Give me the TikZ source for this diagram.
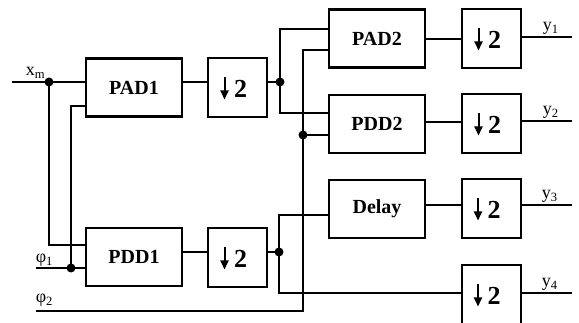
\documentclass[tikz,border=0pt]{standalone}
\usepackage{fontspec}
\setmainfont{Liberation Serif}
\usepackage{tikz}
\usetikzlibrary{calc,arrows.meta}

\tikzset{
  blk/.style={draw, line width=2.6pt, minimum width=96, minimum height=58, inner sep=0pt, font=\fontsize{20}{20}\selectfont\bfseries},
  dsbox/.style={draw, line width=2pt, minimum width=59, minimum height=59, inner sep=0pt,
    text depth=0pt, font=\fontsize{26}{26}\selectfont\bfseries,
    path picture={\draw[line width=2pt, -{Triangle[length=9pt,width=8pt]}]
      ($(path picture bounding box.center)+(-13,-10)$) -- ++(0,22);}},
  lbl/.style={inner sep=0pt, font=\fontsize{18}{18}\selectfont}
}

\begin{document}
\begin{tikzpicture}[x=1pt, y=-1pt, line width=1.6pt]
\useasboundingbox (0,0) rectangle (579,323);
\node[blk] (PAD1) at (134,87.5) {PAD1};
\node[blk] (PDD1) at (134,257) {PDD1};
\node[dsbox] (dsA) at (237.5,87.5) {\hspace{6pt}\raisebox{-2pt}{2}};
\node[dsbox] (dsB) at (237.5,257.5) {\hspace{6pt}\raisebox{-2pt}{2}};
\node[blk] (PAD2) at (377,38.5) {PAD2};
\node[blk] (PDD2) at (377,124) {PDD2};
\node[blk] (Delay) at (377,209) {Delay};
\node[dsbox] (ds1) at (491.5,38.5) {\hspace{6pt}\raisebox{-2pt}{2}};
\node[dsbox] (ds2) at (491.5,123.5) {\hspace{6pt}\raisebox{-2pt}{2}};
\node[dsbox] (ds3) at (491,208.5) {\hspace{6pt}\raisebox{-2pt}{2}};
\node[dsbox] (ds4) at (491,294.5) {\hspace{6pt}\raisebox{-2pt}{2}};
\coordinate (xin) at (12,82);
\coordinate (p1in) at (36,268);
\coordinate (p2in) at (36,311);
\coordinate (jx) at (49,82);
\coordinate (jp1) at (71,268);
\coordinate (jA) at (280,82);
\coordinate (jB) at (279,252);
\coordinate (jp2) at (303,135);
\coordinate (y1) at (572,37);
\coordinate (y2) at (572,121);
\coordinate (y3) at (572,205);
\coordinate (y4) at (572,293);
\node[lbl, anchor=base west] (lxm) at (25,76) {x\textsubscript{m}};
\node[lbl, anchor=base west] (lp1) at (35,263) {φ\textsubscript{1}};
\node[lbl, anchor=base west] (lp2) at (35,303) {φ\textsubscript{2}};
\node[lbl, anchor=base west] (ly1) at (542,31) {y\textsubscript{1}};
\node[lbl, anchor=base west] (ly2) at (542,115) {y\textsubscript{2}};
\node[lbl, anchor=base west] (ly3) at (541,199) {y\textsubscript{3}};
\node[lbl, anchor=base west] (ly4) at (541,287) {y\textsubscript{4}};
\draw (xin) -- (PAD1.west |- xin);
\draw (jx) |- (PDD1.west |- 0,245);
\draw (p1in) -- (PDD1.west |- p1in);
\draw (jp1) |- (PAD1.west |- 0,106);
\draw (PAD1.east |- jA) -- (dsA.west |- jA);
\draw (PDD1.east |- jB) -- (dsB.west |- jB);
\draw (dsA.east |- jA) -- (jA);
\draw (dsB.east |- jB) -- (jB);
\draw (PAD2.west |- 0,29) -| (jA) |- (PDD2.west |- 0,113);
\draw (Delay.west |- 0,215) -| (jB) |- (ds4.west |- y4);
\draw (p2in) -| (jp2) |- (PAD2.west |- 0,50);
\draw (jp2) -- (PDD2.west |- jp2);
\draw (PAD2.east |- 0,39) -- (ds1.west |- 0,39);
\draw (PDD2.east |- 0,122) -- (ds2.west |- 0,122);
\draw (Delay.east |- y3) -- (ds3.west |- y3);
\draw (ds1.east |- y1) -- (y1);
\draw (ds2.east |- y2) -- (y2);
\draw (ds3.east |- y3) -- (y3);
\draw (ds4.east |- y4) -- (y4);
\foreach \j in {jx,jp1,jA,jB,jp2} \fill (\j) circle (4.5);
\end{tikzpicture}
\end{document}
